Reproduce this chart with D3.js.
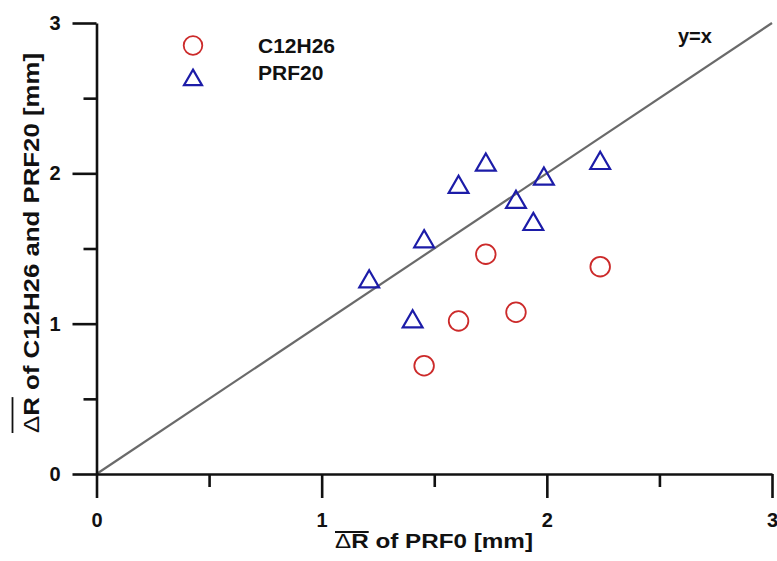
<!DOCTYPE html>
<html>
<head>
<meta charset="utf-8">
<script src="https://cdn.jsdelivr.net/npm/d3@7"></script>
<style>
  html, body { margin: 0; padding: 0; background: #fff; }
  svg text { font-family: "Liberation Sans", Arial, sans-serif; font-weight: bold; fill: #111; }
</style>
</head>
<body>
<svg id="chart" width="777" height="561"></svg>
<script>
// Mean ΔR values [mm]
const prf0X      = [1.455, 1.608, 1.729, 1.863, 2.237];
const c12h26Y    = [0.72, 1.018, 1.462, 1.076, 1.379];
const prf20X     = [1.211, 1.404, 1.455, 1.608, 1.729, 1.863, 1.940, 1.987, 2.237];
const prf20Y     = [1.279, 1.013, 1.546, 1.908, 2.056, 1.808, 1.661, 1.963, 2.067];
const majorTicks = [0, 1, 2, 3];
const minorTicks = [0.5, 1.5, 2.5];
const seriesNames = ["C12H26", "PRF20"];

const svg = d3.select("#chart");
const plotLeft = 96.5, plotRight = 772, plotTop = 23, plotBottom = 474;

const x = d3.scaleLinear().domain([0, 3]).range([plotLeft, plotRight]);
const y = d3.scaleLinear().domain([0, 3]).range([plotBottom, plotTop]);

// y = x reference line
svg.append("line")
  .attr("x1", x(0)).attr("y1", y(0)).attr("x2", x(3)).attr("y2", y(3))
  .attr("stroke", "#6a6a6a").attr("stroke-width", 2.2);

// Axes: outward major and minor ticks
function styleAxis(g) {
  g.attr("font-family", null).attr("font-size", null);
  g.selectAll("path.domain").attr("stroke", "#111").attr("stroke-width", 2.6);
  g.selectAll(".tick line").attr("stroke", "#111").attr("stroke-width", 2.6);
  g.selectAll(".tick text").style("font-size", "20px").attr("fill", "#111");
}

const xMajor = svg.append("g").attr("transform", `translate(0,${plotBottom})`)
  .call(d3.axisBottom(x).tickValues(majorTicks).tickSize(24).tickSizeOuter(0).tickPadding(15).tickFormat(d3.format("d")));
styleAxis(xMajor);
const xMinor = svg.append("g").attr("transform", `translate(0,${plotBottom})`)
  .call(d3.axisBottom(x).tickValues(minorTicks).tickSize(13).tickFormat(""));
styleAxis(xMinor);
xMinor.select("path.domain").remove();

const yMajor = svg.append("g").attr("transform", `translate(${plotLeft},0)`)
  .call(d3.axisLeft(y).tickValues(majorTicks).tickSize(24).tickSizeOuter(0).tickPadding(12).tickFormat(d3.format("d")));
styleAxis(yMajor);
const yMinor = svg.append("g").attr("transform", `translate(${plotLeft},0)`)
  .call(d3.axisLeft(y).tickValues(minorTicks).tickSize(13).tickFormat(""));
styleAxis(yMinor);
yMinor.select("path.domain").remove();

// Markers
const circleColor = "#cc2a2a", triColor = "#1c1ca8";
const circlePts = prf0X.map((v, i) => ({ x: v, y: c12h26Y[i] }));
const triPts = prf20X.map((v, i) => ({ x: v, y: prf20Y[i] }));
const tri = d3.symbol().type(d3.symbolTriangle).size(170);

svg.append("g").selectAll("circle").data(circlePts).join("circle")
  .attr("cx", d => x(d.x)).attr("cy", d => y(d.y)).attr("r", 9.8)
  .attr("fill", "none").attr("stroke", circleColor).attr("stroke-width", 1.8);

svg.append("g").selectAll("path").data(triPts).join("path")
  .attr("d", tri).attr("transform", d => `translate(${x(d.x)},${y(d.y)})`)
  .attr("fill", "none").attr("stroke", triColor).attr("stroke-width", 2.2);

// Legend
const legendTri = d3.symbol().type(d3.symbolTriangle).size(140);
svg.append("circle").attr("cx", 193).attr("cy", 45.5).attr("r", 9.3)
  .attr("fill", "none").attr("stroke", circleColor).attr("stroke-width", 1.8);
svg.append("path").attr("d", legendTri).attr("transform", "translate(193,80)")
  .attr("fill", "none").attr("stroke", triColor).attr("stroke-width", 2.2);
svg.append("text").attr("x", 258).attr("y", 53).style("font-size", "21px").text(seriesNames[0]);
svg.append("text").attr("x", 258).attr("y", 80).style("font-size", "21px").text(seriesNames[1]);

// y = x label
svg.append("text").attr("x", 678).attr("y", 43).style("font-size", "20px").text("y=x");

// Axis titles with an overline on the ΔR symbol
const xt = svg.append("text").attr("x", 434).attr("y", 548)
  .attr("text-anchor", "middle").style("font-size", "21px")
  .attr("textLength", 198).attr("lengthAdjust", "spacingAndGlyphs");
xt.append("tspan").style("font-weight", "normal").text("Δ");
xt.append("tspan").text("R of PRF0 [mm]");

const yt = svg.append("text")
  .attr("transform", "translate(38.5,243) rotate(-90)")
  .attr("text-anchor", "middle").style("font-size", "22px")
  .attr("textLength", 380).attr("lengthAdjust", "spacingAndGlyphs");
yt.append("tspan").style("font-weight", "normal").text("Δ");
yt.append("tspan").text("R of C12H26 and PRF20 [mm]");

function overline(textSel, offset) {
  const node = textSel.node();
  const s = node.getStartPositionOfChar(0);
  const e = node.getEndPositionOfChar(1);
  const g = svg.append("g");
  const tr = textSel.attr("transform");
  if (tr) g.attr("transform", tr);
  g.append("line")
    .attr("x1", s.x).attr("x2", e.x)
    .attr("y1", s.y - offset).attr("y2", s.y - offset)
    .attr("stroke", "#111").attr("stroke-width", 1.8);
}
overline(xt, 16);
overline(yt, 26);
</script>
</body>
</html>
